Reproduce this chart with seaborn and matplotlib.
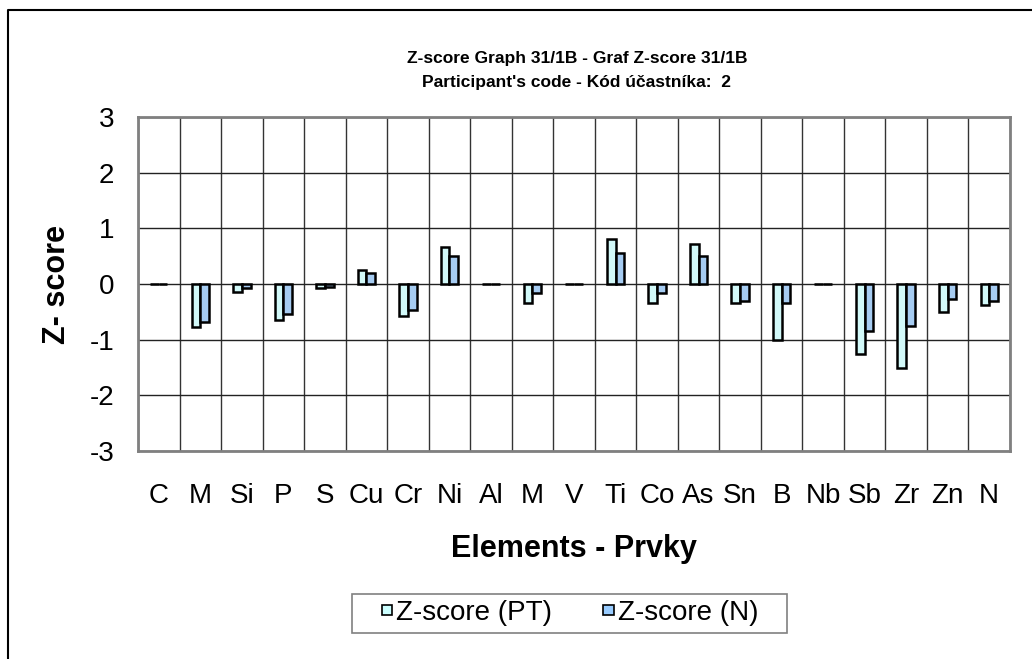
"""Z-score bar chart, proficiency test 31/1B."""
import matplotlib
matplotlib.use("Agg")
import matplotlib.pyplot as plt
from matplotlib.lines import Line2D
from matplotlib.patches import Rectangle
import numpy as np
import pandas as pd
import seaborn as sns

elements = ["C", "M", "Si", "P", "S", "Cu", "Cr", "Ni", "Al", "M", "V",
            "Ti", "Co", "As", "Sn", "B", "Nb", "Sb", "Zr", "Zn", "N"]
z_pt = [0.0, -0.78, -0.14, -0.65, -0.08, 0.25, -0.58, 0.66, 0.0, -0.34, 0.0,
        0.80, -0.34, 0.71, -0.34, -1.01, 0.0, -1.26, -1.50, -0.50, -0.38]
z_n = [0.0, -0.69, -0.07, -0.54, -0.05, 0.20, -0.46, 0.50, 0.0, -0.17, 0.0,
       0.56, -0.16, 0.50, -0.31, -0.34, 0.0, -0.84, -0.75, -0.27, -0.30]
series = ["Z-score (PT)", "Z-score (N)"]
colors = ["#CCFFFF", "#99CCFF"]

pos = [str(i) for i in range(len(elements))]
df = pd.DataFrame({
    "pos": pos * 2,
    "z": z_pt + z_n,
    "series": [series[0]] * len(pos) + [series[1]] * len(pos),
})

sns.set_style("white")
plt.rcParams["font.family"] = ["Liberation Sans", "DejaVu Sans"]
plt.rcParams["axes.unicode_minus"] = False
plt.rcParams["text.color"] = "black"
plt.rcParams["axes.labelcolor"] = "black"
plt.rcParams["xtick.color"] = "black"
plt.rcParams["ytick.color"] = "black"

fig = plt.figure(figsize=(10.32, 6.59), dpi=100)
ax = fig.add_axes([138 / 1032, 1 - 451 / 659, 872 / 1032, 334 / 659])

sns.barplot(data=df, x="pos", y="z", hue="series", order=pos,
            hue_order=series, palette=colors, width=0.42, gap=0,
            edgecolor="black", linewidth=1.8, legend=False, ax=ax)

ax.set_ylim(-3, 3)
ax.set_xlim(-0.5, len(elements) - 0.5)
ax.set_yticks(range(-3, 4))
ax.set_xticks(range(len(elements)))
ax.set_xticklabels(elements, fontsize=20)
ax.tick_params(axis="y", labelsize=20, length=7, width=1, color="#333333", pad=10)
ax.tick_params(axis="x", length=0, pad=23)
ax.set_xticks(np.arange(-0.5, len(elements), 1), minor=True)
ax.tick_params(axis="x", which="minor", length=0)
ax.grid(axis="y", which="major", color="#222222", linewidth=1)
ax.grid(axis="x", which="minor", color="#333333", linewidth=1)
ax.set_axisbelow(True)
for sp in ax.spines.values():
    sp.set_color("#808080")
    sp.set_linewidth(2)

ax.set_xlabel("Elements - Prvky", fontsize=22, fontweight="bold", labelpad=18)
ax.set_ylabel("Z- score", fontsize=22, fontweight="bold", labelpad=13)

fig.text(577 / 1032, 1 - 58 / 659, "Z-score Graph 31/1B - Graf Z-score 31/1B",
         ha="center", va="center", fontsize=12.5, fontweight="bold")
fig.text(577 / 1032, 1 - 82 / 659, "Participant's code - Kód účastníka:  2",
         ha="center", va="center", fontsize=12.5, fontweight="bold")

handles = [plt.Rectangle((0, 0), 1, 1, facecolor=c, edgecolor="black", linewidth=1.2)
           for c in colors]
fig.legend(handles, series, loc="center", bbox_to_anchor=(570 / 1032, 1 - 613 / 659),
           ncol=2, fontsize=20, frameon=False,
           handlelength=0.38, handleheight=0.18, handletextpad=0.14,
           columnspacing=1.85, borderpad=0.25, borderaxespad=0)
fig.add_artist(Rectangle((352 / 1032, 1 - 633 / 659), 435 / 1032, 39 / 659,
                         transform=fig.transFigure, fill=False,
                         edgecolor="#808080", linewidth=1.2))

fig.add_artist(Line2D([8 / 1032, 8 / 1032, 1.0], [0.0, 1 - 10 / 659, 1 - 10 / 659],
                      color="black", linewidth=1.5, transform=fig.transFigure))

fig.savefig("out.png", dpi=100)
